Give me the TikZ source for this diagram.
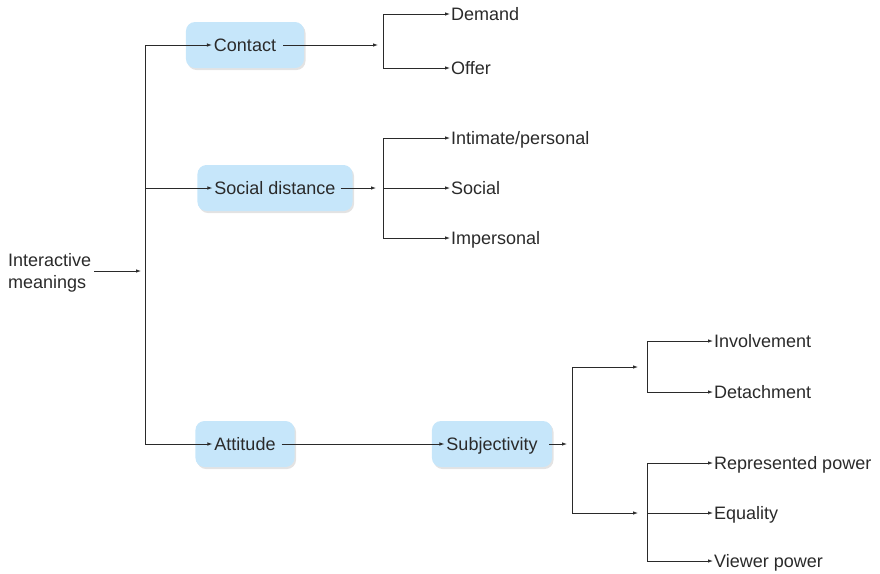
\documentclass[tikz,border=0pt]{standalone}
\usepackage{fontspec}
\setmainfont{Liberation Sans}
\usetikzlibrary{arrows.meta,shadows,calc}
\definecolor{boxblue}{HTML}{C6E6FA}
\definecolor{linegray}{HTML}{2A2A2A}
\tikzset{
    box/.style = {rectangle, rounded corners=9pt, fill=boxblue,
        minimum height=46pt, text=linegray, text height=13pt, text depth=0pt,
        drop shadow={opacity=0.22, shadow xshift=1.5pt, shadow yshift=-2pt}},
    leaf/.style = {anchor=west, inner sep=1pt, text=linegray,
        text height=13pt, text depth=0pt},
    line/.style = {draw=linegray, line width=0.8pt},
    arrow/.style = {line, -{Latex[length=5pt,width=3.5pt]}}
}
\begin{document}
\begin{tikzpicture}[x=1pt,y=-1pt,font=\fontsize{18}{22}\selectfont]
            \useasboundingbox (0,0) rectangle (880,573);
            % boxes
            \node[box, inner xsep=28pt] (contact) at (245,45) {Contact};
            \node[box, inner xsep=17pt] (social) at (275,188) {Social distance};
            \node[box, inner xsep=19pt] (attitude) at (245,444) {Attitude};
            \node[box, inner xsep=14.5pt] (subjectivity) at (492,444) {Subjectivity};
            \node[anchor=west, align=left, inner sep=0pt, text=linegray] (meanings) at (8,273) {Interactive\\meanings};
            % leaves
            \node[leaf] (demand) at (450,14) {Demand};
            \node[leaf] (offer) at (450,68) {Offer};
            \node[leaf] (intimate) at (450,138) {Intimate/personal};
            \node[leaf] (socialleaf) at (450,188) {Social};
            \node[leaf] (impersonal) at (450,238) {Impersonal};
            \node[leaf] (involvement) at (713,341) {Involvement};
            \node[leaf] (detachment) at (713,392) {Detachment};
            \node[leaf] (represented) at (713,463) {Represented power};
            \node[leaf] (equality) at (713,513) {Equality};
            \node[leaf] (viewer) at (713,561) {Viewer power};
            % branch points
            \coordinate (trunk) at (145,271);
            \coordinate (csplit) at (383,45);
            \coordinate (ssplit) at (383,188);
            \coordinate (asplit) at (572,444);
            \coordinate (isplit) at (647,367);
            \coordinate (psplit) at (647,513);
            % trunk
            \draw[arrow] ([xshift=3pt]meanings.east |- trunk) -- ([xshift=-4pt]trunk);
            \draw[line] (trunk |- contact) -- (trunk |- attitude);
            \draw[arrow] (trunk |- contact) -- ([xshift=-2pt]contact.text |- contact);
            \draw[arrow] (trunk |- social) -- ([xshift=-2pt]social.text |- social);
            \draw[arrow] (trunk |- attitude) -- ([xshift=-2pt]attitude.text |- attitude);
            % contact
            \draw[arrow] ([xshift=-21pt]contact.east) -- ([xshift=-5pt]csplit);
            \draw[line] (csplit |- demand) -- (csplit |- offer);
            \draw[arrow] (csplit |- demand) -- (demand.west);
            \draw[arrow] (csplit |- offer) -- (offer.west);
            % social distance
            \draw[arrow] ([xshift=-12pt]social.east) -- ([xshift=-7pt]ssplit);
            \draw[line] (ssplit |- intimate) -- (ssplit |- impersonal);
            \draw[arrow] (ssplit |- intimate) -- (intimate.west);
            \draw[arrow] (ssplit) -- (socialleaf.west);
            \draw[arrow] (ssplit |- impersonal) -- (impersonal.west);
            % attitude
            \draw[arrow] ([xshift=-13pt]attitude.east) -- ([xshift=-2pt]subjectivity.text |- subjectivity);
            \draw[arrow] ([xshift=-3pt]subjectivity.east) -- ([xshift=-5pt]asplit);
            \draw[line] (asplit |- isplit) -- (asplit |- psplit);
            \draw[arrow] (asplit |- isplit) -- ([xshift=-9pt]isplit);
            \draw[arrow] (asplit |- psplit) -- ([xshift=-9pt]psplit);
            \draw[line] (isplit |- involvement) -- (isplit |- detachment);
            \draw[arrow] (isplit |- involvement) -- (involvement.west);
            \draw[arrow] (isplit |- detachment) -- (detachment.west);
            \draw[line] (psplit |- represented) -- (psplit |- viewer);
            \draw[arrow] (psplit |- represented) -- (represented.west);
            \draw[arrow] (psplit) -- (equality.west);
            \draw[arrow] (psplit |- viewer) -- (viewer.west);
        \end{tikzpicture}
\end{document}
